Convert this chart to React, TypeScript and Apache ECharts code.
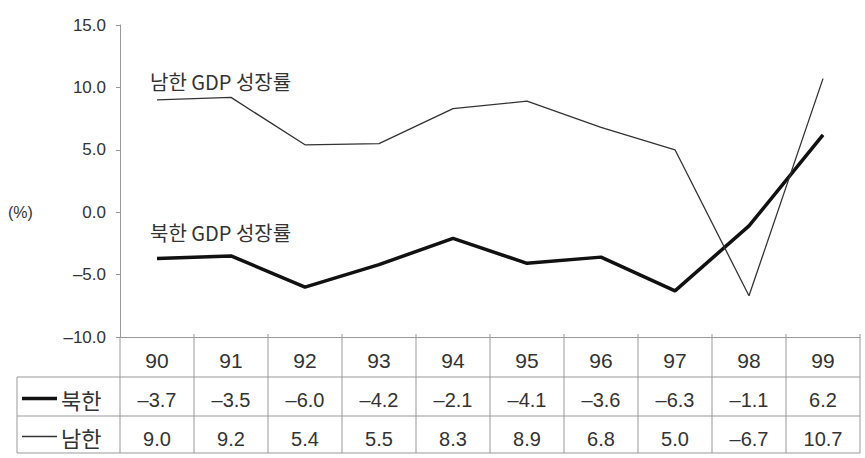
import React, { useEffect, useRef } from "react";
import * as echarts from "echarts";

const years = ["90", "91", "92", "93", "94", "95", "96", "97", "98", "99"];
const northGrowth = [-3.7, -3.5, -6.0, -4.2, -2.1, -4.1, -3.6, -6.3, -1.1, 6.2];
const southGrowth = [9.0, 9.2, 5.4, 5.5, 8.3, 8.9, 6.8, 5.0, -6.7, 10.7];
const yTicks = { min: -10, max: 15, interval: 5 };
const seriesNames = ["북한", "남한"];
const annotations = ["남한 GDP 성장률", "북한 GDP 성장률"];
const unitLabel = "(%)";

const fmt = (v: number) => (v < 0 ? "–" + Math.abs(v).toFixed(1) : v.toFixed(1));

const W = 865;
const H = 458;
const GRID_LEFT = 120;
const GRID_RIGHT = 5;
const GRID_TOP = 25;
const AXIS_Y = 337;
const ROW_LINES = [377, 416, 453];
const LABEL_LEFT = 17;
const TEXT = "#333";
const LINE = "#999";
const FONT = "'Liberation Sans', 'Noto Sans CJK KR', sans-serif";

export default function App() {
  const ref = useRef<HTMLDivElement>(null);
  useEffect(() => {
    if (!ref.current) return;
    const chart = echarts.init(ref.current, null, { renderer: "svg" });
    const right = W - GRID_RIGHT;
    const colW = (right - GRID_LEFT) / years.length;
    const tableLines: any[] = [];
    ROW_LINES.forEach((y) => {
      tableLines.push({
        type: "line",
        shape: { x1: LABEL_LEFT, y1: y, x2: right, y2: y },
        style: { stroke: LINE, lineWidth: 1 },
      });
    });
    for (let i = 1; i <= years.length; i++) {
      const x = GRID_LEFT + colW * i;
      tableLines.push({
        type: "line",
        shape: { x1: x, y1: AXIS_Y - 3, x2: x, y2: ROW_LINES[2] },
        style: { stroke: LINE, lineWidth: 1 },
      });
    }
    tableLines.push({
      type: "line",
      shape: { x1: GRID_LEFT, y1: AXIS_Y, x2: GRID_LEFT, y2: ROW_LINES[2] },
      style: { stroke: LINE, lineWidth: 1 },
    });
    tableLines.push({
      type: "line",
      shape: { x1: LABEL_LEFT, y1: ROW_LINES[0], x2: LABEL_LEFT, y2: ROW_LINES[2] },
      style: { stroke: LINE, lineWidth: 1 },
    });
    const rowMid1 = (ROW_LINES[0] + ROW_LINES[1]) / 2 + 2;
    const rowMid2 = (ROW_LINES[1] + ROW_LINES[2]) / 2 + 2;
    const legendItems = [
      { type: "line", shape: { x1: 22, y1: rowMid1, x2: 57, y2: rowMid1 }, style: { stroke: "#111", lineWidth: 3.5 } },
      { type: "text", x: 61, y: rowMid1, style: { text: seriesNames[0], font: `22px 'Noto Sans CJK KR'`, fill: TEXT, verticalAlign: "middle" } },
      { type: "line", shape: { x1: 22, y1: rowMid2, x2: 57, y2: rowMid2 }, style: { stroke: "#333", lineWidth: 1.3 } },
      { type: "text", x: 61, y: rowMid2, style: { text: seriesNames[1], font: `22px 'Noto Sans CJK KR'`, fill: TEXT, verticalAlign: "middle" } },
    ];
    const option: any = {
      animation: false,
      backgroundColor: "#fff",
      grid: { left: GRID_LEFT, right: GRID_RIGHT, top: GRID_TOP, bottom: H - AXIS_Y, containLabel: false },
      xAxis: {
        type: "category",
        data: years,
        boundaryGap: true,
        axisLine: { show: true, onZero: false, lineStyle: { color: LINE, width: 1 } },
        axisTick: { show: false },
        splitLine: { show: false },
        axisLabel: {
          margin: 4,
          interval: 0,
          fontFamily: FONT,
          formatter: (v: string, idx: number) =>
            `{h|${v}}\n{n|${fmt(northGrowth[idx])}}\n{s|${fmt(southGrowth[idx])}}`,
          rich: {
            h: { fontSize: 21, lineHeight: 39, color: TEXT, fontFamily: FONT },
            n: { fontSize: 20, lineHeight: 39, color: TEXT, fontFamily: FONT },
            s: { fontSize: 20, lineHeight: 39, color: TEXT, fontFamily: FONT },
          },
        },
      },
      yAxis: {
        type: "value",
        min: yTicks.min,
        max: yTicks.max,
        interval: yTicks.interval,
        axisLine: { show: true, lineStyle: { color: LINE, width: 1 } },
        axisTick: { show: true, length: 4, lineStyle: { color: LINE } },
        splitLine: { show: false },
        axisLabel: {
          margin: 14,
          fontSize: 17,
          color: TEXT,
          fontFamily: FONT,
          formatter: (v: number) => fmt(v),
        },
      },
      series: [
        {
          name: seriesNames[0],
          type: "line",
          data: northGrowth,
          symbol: "none",
          lineStyle: { color: "#111", width: 3.5 },
        },
        {
          name: seriesNames[1],
          type: "line",
          data: southGrowth,
          symbol: "none",
          lineStyle: { color: "#333", width: 1.3 },
        },
      ],
      graphic: [
        ...tableLines,
        ...legendItems,
        { type: "text", x: 8, y: 212, style: { text: unitLabel, font: `16px ${FONT}`, fill: TEXT, verticalAlign: "middle" } },
        { type: "text", x: 150, y: 81, style: { text: annotations[0], font: `20px 'Noto Sans CJK KR'`, fill: TEXT, verticalAlign: "middle" } },
        { type: "text", x: 150, y: 232, style: { text: annotations[1], font: `20px 'Noto Sans CJK KR'`, fill: TEXT, verticalAlign: "middle" } },
      ],
    };
    chart.setOption(option);
    return () => chart.dispose();
  }, []);
  return <div ref={ref} style={{ width: W, height: H, position: "absolute", left: 0, top: 0 }} />;
}
